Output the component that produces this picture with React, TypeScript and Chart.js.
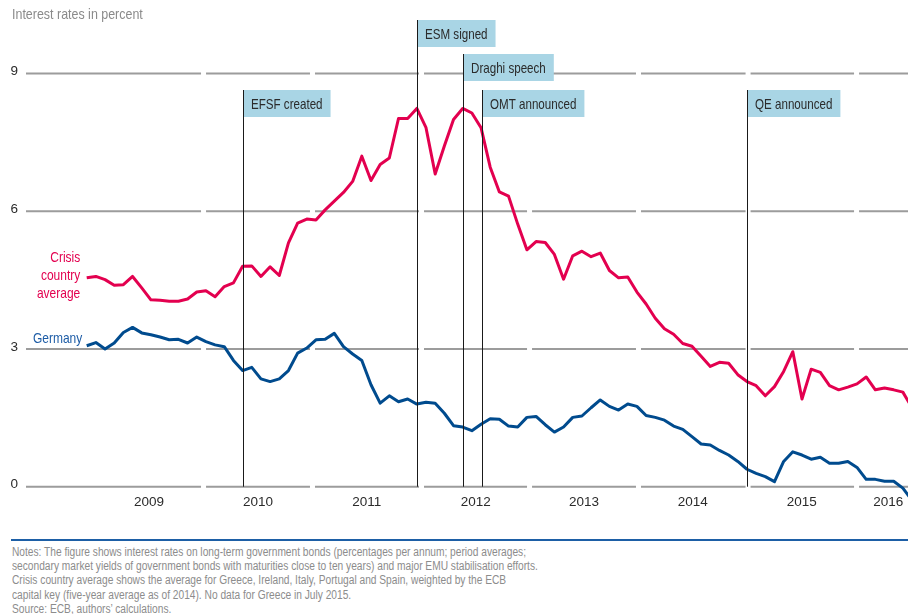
import React, { useEffect, useRef } from 'react';
import { Chart, registerables } from 'chart.js';

Chart.register(...registerables);

// ---------- DATA ----------
// Monthly observations, index 0 = first month shown (late 2008)
const crisisAverage = [
  4.55, 4.58, 4.51, 4.39, 4.40, 4.58, 4.33, 4.07, 4.06, 4.04,
  4.04, 4.09, 4.24, 4.27, 4.14, 4.36, 4.44, 4.80, 4.81, 4.58,
  4.79, 4.60, 5.31, 5.74, 5.83, 5.81, 6.03, 6.22, 6.41, 6.65,
  7.20, 6.67, 7.02, 7.16, 8.02, 8.02, 8.24, 7.82, 6.81, 7.42,
  8.00, 8.24, 8.14, 7.82, 6.96, 6.42, 6.33, 5.72, 5.16, 5.34,
  5.32, 5.06, 4.52, 5.03, 5.13, 5.01, 5.09, 4.71, 4.55, 4.57,
  4.24, 3.98, 3.67, 3.44, 3.32, 3.12, 3.06, 2.84, 2.62, 2.71,
  2.69, 2.44, 2.29, 2.20, 1.98, 2.18, 2.51, 2.94, 1.91, 2.56,
  2.49, 2.20, 2.11, 2.17, 2.24, 2.39, 2.11, 2.15, 2.11, 2.06,
  1.72,
];

const germany = [
  3.07, 3.14, 3.00, 3.13, 3.36, 3.47, 3.35, 3.31, 3.26, 3.20,
  3.21, 3.13, 3.26, 3.16, 3.09, 3.05, 2.75, 2.53, 2.60, 2.35,
  2.29, 2.35, 2.53, 2.91, 3.02, 3.20, 3.21, 3.34, 3.05, 2.89,
  2.75, 2.22, 1.82, 1.98, 1.85, 1.91, 1.80, 1.84, 1.82, 1.60,
  1.33, 1.30, 1.22, 1.36, 1.48, 1.47, 1.32, 1.30, 1.51, 1.53,
  1.35, 1.19, 1.30, 1.51, 1.54, 1.72, 1.89, 1.75, 1.67, 1.80,
  1.75, 1.55, 1.51, 1.45, 1.32, 1.25, 1.09, 0.93, 0.91, 0.79,
  0.69, 0.55, 0.38, 0.29, 0.22, 0.11, 0.55, 0.76, 0.69, 0.60,
  0.64, 0.51, 0.51, 0.55, 0.42, 0.16, 0.16, 0.12, 0.12, -0.03,
  -0.30,
];

const yearLabels = ['2009', '2010', '2011', '2012', '2013', '2014', '2015', '2016'];
const yearLabelPositions = [6.8, 18.68, 30.55, 42.42, 54.23, 66.1, 77.97, 87.4];
const yearBoundaries = [12.74, 24.62, 36.51, 48.29, 60.17, 72.12, 83.95];
const yTicks = [0, 3, 6, 9];

const eventNames = ['EFSF created', 'ESM signed', 'Draghi speech', 'OMT announced', 'QE announced'];
const eventPositions = [17.04, 36.02, 40.98, 43.16, 71.97];
const eventRows = [2, 0, 1, 2, 2];

const crisisLabelLines = ['Crisis', 'country', 'average'];
const germanyLabelLines = ['Germany'];

const titleText = 'Interest rates in percent';
const noteLines = [
  'Notes: The figure shows interest rates on long-term government bonds (percentages per annum; period averages;',
  'secondary market yields of government bonds with maturities close to ten years) and major EMU stabilisation efforts.',
  'Crisis country average shows the average for Greece, Ireland, Italy, Portugal and Spain, weighted by the ECB',
  'capital key (five-year average as of 2014). No data for Greece in July 2015.',
  'Source: ECB, authors\u2019 calculations.',
];

// ---------- STYLE ----------
const FONT = '"Liberation Sans", Arial, sans-serif';
const CONDENSE = 0.8;
const CRISIS_COLOR = '#e3004f';
const GERMANY_COLOR = '#004b8e';
const GRID_COLOR = '#9c9c9c';
const BOX_COLOR = '#a9d5e5';
const TEXT_DARK = '#2b2b2b';
const GAP = 5;
const ROW_TOPS = [0, 34, 70];
const BOX_H = 27;

function condensedText(ctx: CanvasRenderingContext2D, text: string, x: number, y: number) {
  const w = ctx.measureText(text).width * CONDENSE;
  ctx.fillText(text, x, y, w);
  return w;
}

const overlayPlugin = {
  id: 'overlay',
  beforeDatasetsDraw(chart: any) {
    const { ctx, chartArea } = chart;
    const x = chart.scales.x;
    const y = chart.scales.y;
    ctx.save();
    ctx.strokeStyle = GRID_COLOR;
    ctx.lineWidth = 2;
    const gaps = yearBoundaries.map((b) => x.getPixelForValue(b));
    for (const t of yTicks) {
      const py = y.getPixelForValue(t);
      ctx.beginPath();
      let start = chartArea.left;
      for (const g of gaps) {
        ctx.moveTo(start, py);
        ctx.lineTo(g - GAP / 2, py);
        start = g + GAP / 2;
      }
      ctx.moveTo(start, py);
      ctx.lineTo(chartArea.right, py);
      ctx.stroke();
    }
    ctx.restore();
  },
  afterDatasetsDraw(chart: any) {
    const { ctx, chartArea } = chart;
    const x = chart.scales.x;
    const y = chart.scales.y;
    ctx.save();
    ctx.font = `14.5px ${FONT}`;
    const zeroY = y.getPixelForValue(0);
    eventNames.forEach((name, i) => {
      const px = Math.round(x.getPixelForValue(eventPositions[i])) + 0.5;
      const top = chartArea.top + ROW_TOPS[eventRows[i]];
      ctx.strokeStyle = '#1a1a1a';
      ctx.lineWidth = 1;
      ctx.beginPath();
      ctx.moveTo(px, top);
      ctx.lineTo(px, zeroY);
      ctx.stroke();
      const w = ctx.measureText(name).width * CONDENSE + 15;
      ctx.fillStyle = BOX_COLOR;
      ctx.fillRect(px + 0.5, top, w, BOX_H);
      ctx.fillStyle = TEXT_DARK;
      ctx.textBaseline = 'middle';
      ctx.textAlign = 'left';
      condensedText(ctx, name, px + 7.5, top + BOX_H / 2 + 1);
    });
    // series labels
    ctx.font = `15px ${FONT}`;
    ctx.textAlign = 'right';
    ctx.textBaseline = 'middle';
    const lx = x.getPixelForValue(-0.7);
    ctx.fillStyle = CRISIS_COLOR;
    const cTop = y.getPixelForValue(crisisAverage[0]) - 20;
    crisisLabelLines.forEach((l, i) => condensedText(ctx, l, lx, cTop + i * 18));
    ctx.fillStyle = '#1d5ca6';
    const gTop = y.getPixelForValue(germany[0]) - 7;
    germanyLabelLines.forEach((l, i) => condensedText(ctx, l, lx + 2, gTop + i * 18));
    ctx.restore();
  },
};

export default function App() {
  const ref = useRef<HTMLCanvasElement>(null);
  useEffect(() => {
    const canvas = ref.current!;
    const chart = new Chart(canvas, {
      type: 'line',
      data: {
        datasets: [
          {
            label: 'Crisis country average',
            data: crisisAverage.map((v, i) => ({ x: i, y: v })),
            borderColor: CRISIS_COLOR,
            borderWidth: 3,
            pointRadius: 0,
            tension: 0,
            borderJoinStyle: 'round',
            clip: 8,
          },
          {
            label: 'Germany',
            data: germany.map((v, i) => ({ x: i, y: v })),
            borderColor: GERMANY_COLOR,
            borderWidth: 3,
            pointRadius: 0,
            tension: 0,
            borderJoinStyle: 'round',
            clip: 8,
          },
        ],
      },
      options: {
        animation: false,
        responsive: false,
        devicePixelRatio: 1,
        layout: { padding: { top: 20, left: 0, right: 0, bottom: 0 } },
        plugins: { legend: { display: false }, tooltip: { enabled: false }, title: { display: false } },
        scales: {
          x: {
            type: 'linear',
            min: -6.62,
            max: 89.56,
            grid: { display: false, drawTicks: false },
            border: { display: false },
            afterBuildTicks: (scale: any) => {
              scale.ticks = yearLabelPositions.map((v) => ({ value: v }));
            },
            afterFit: (scale: any) => {
              scale.height = 38;
            },
            ticks: {
              autoSkip: false,
              maxRotation: 0,
              padding: 2,
              color: TEXT_DARK,
              font: { family: FONT, size: 13.5 },
              callback: (_v: any, index: number) => yearLabels[index],
            },
          },
          y: {
            type: 'linear',
            min: -0.1154,
            max: 10.166,
            grid: { display: false, drawTicks: false },
            border: { display: false },
            afterBuildTicks: (scale: any) => {
              scale.ticks = yTicks.map((v) => ({ value: v }));
            },
            afterFit: (scale: any) => {
              scale.width = 26;
            },
            ticks: {
              padding: 8,
              labelOffset: -2,
              color: TEXT_DARK,
              font: { family: FONT, size: 13.5 },
              callback: (v: any) => String(v),
            },
          },
        },
      },
      plugins: [overlayPlugin],
    } as any);
    return () => chart.destroy();
  }, []);

  return (
    <div style={{ position: 'absolute', left: 0, top: 0, width: 908, height: 614, background: '#fff', overflow: 'hidden' }}>
      <canvas ref={ref} width={908} height={530} style={{ position: 'absolute', left: 0, top: 0, width: 908, height: 530 }} />
      <div style={{ position: 'absolute', left: 12, top: 5, fontFamily: FONT, fontSize: 15, lineHeight: '18px', color: '#8a8a8a', whiteSpace: 'nowrap', transform: 'scaleX(0.83)', transformOrigin: 'left top' }}>
        {titleText}
      </div>
      <div style={{ position: 'absolute', left: 11, top: 539, width: 897, height: 2, background: '#1d5fa6' }} />
      <div style={{ position: 'absolute', left: 12, top: 544.8, fontFamily: FONT, fontSize: 12.5, lineHeight: '14.3px', color: '#8c8c8c', whiteSpace: 'nowrap', transform: 'scaleX(0.815)', transformOrigin: 'left top' }}>
        {noteLines.map((l, i) => (
          <div key={i}>{l}</div>
        ))}
      </div>
    </div>
  );
}
